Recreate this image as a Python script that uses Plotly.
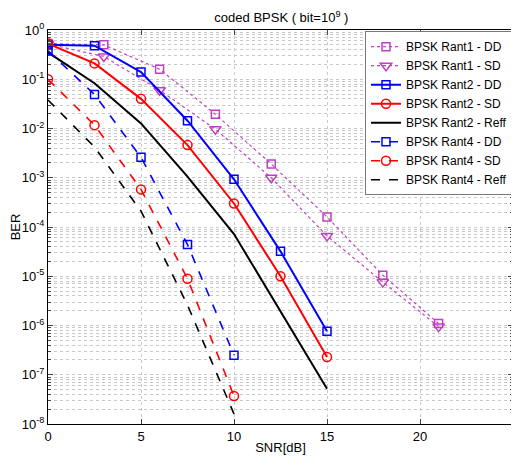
import plotly.graph_objects as go

snr_rant1 = [0, 3, 6, 9, 12, 15, 18, 21]
ber_rant1_dd = [0.53, 0.50, 0.16, 0.0195, 1.9e-3, 1.6e-4, 1.05e-5, 1.1e-6]
ber_rant1_sd = [0.52, 0.29, 0.060, 0.0097, 1.0e-3, 6.6e-5, 7.6e-6, 9.5e-7]

snr_rant2 = [0, 2.5, 5, 7.5, 10, 12.5, 15]
ber_rant2_dd = [0.50, 0.48, 0.14, 0.0144, 9.3e-4, 3.2e-5, 7.6e-7]
ber_rant2_sd = [0.53, 0.21, 0.040, 4.6e-3, 3.0e-4, 1.0e-5, 2.3e-7]
ber_rant2_reff = [0.35, 0.083, 0.0127, 1.05e-3, 7.2e-5, 2.0e-6, 5.2e-8]

snr_rant4 = [0, 2.5, 5, 7.5, 10]
ber_rant4_dd = [0.38, 0.049, 2.6e-3, 4.4e-5, 2.5e-7]
ber_rant4_sd = [0.10, 0.0117, 5.8e-4, 8.9e-6, 3.7e-8]
ber_rant4_reff = [0.038, 0.0042, 2.1e-4, 2.6e-6, 1.6e-8]

x_ticks = [0, 5, 10, 15, 20, 25]
y_exps = [0, -1, -2, -3, -4, -5, -6, -7, -8]

MAG = "rgb(191,64,191)"
BLUE = "rgb(0,0,255)"
RED = "rgb(255,0,0)"
BLACK = "rgb(0,0,0)"

fig = go.Figure()

def add(x, y, name, color, dash, width, symbol=None, size=9):
    mode = "lines+markers" if symbol else "lines"
    kw = {}
    if symbol:
        kw["marker"] = dict(symbol=symbol, size=size, color=color,
                            line=dict(color=color, width=1.5))
    fig.add_trace(go.Scatter(x=x, y=y, name=name, mode=mode,
                             line=dict(color=color, dash=dash, width=width), **kw))

add(snr_rant1, ber_rant1_dd, "BPSK Rant1 - DD", MAG, "dot", 1.2, "square-open", 8)
add(snr_rant1, ber_rant1_sd, "BPSK Rant1 - SD", MAG, "dot", 1.2, "triangle-down-open", 10)
add(snr_rant2, ber_rant2_dd, "BPSK Rant2 - DD", BLUE, "solid", 2, "square-open", 8)
add(snr_rant2, ber_rant2_sd, "BPSK Rant2 - SD", RED, "solid", 2, "circle-open", 9)
add(snr_rant2, ber_rant2_reff, "BPSK Rant2 - Reff", BLACK, "solid", 2)
add(snr_rant4, ber_rant4_dd, "BPSK Rant4 - DD", BLUE, "dash", 1.6, "square-open", 8)
add(snr_rant4, ber_rant4_sd, "BPSK Rant4 - SD", RED, "dash", 1.6, "circle-open", 9)
add(snr_rant4, ber_rant4_reff, "BPSK Rant4 - Reff", BLACK, "dash", 1.6)

grid_col = "rgb(200,200,200)"
FONT = "Liberation Sans"
# the page body has an 8px margin, so the figure is 8px smaller than the window
fig.update_layout(
    width=511, height=448,
    margin=dict(l=40, r=6, t=22, b=32),
    paper_bgcolor="white", plot_bgcolor="white",
    font=dict(family=FONT, size=13, color="black"),
    title=dict(text="coded BPSK ( bit=10<sup>9</sup> )", x=0.535, xanchor="center",
               y=0.978, yanchor="middle", font=dict(family=FONT, size=13)),
    showlegend=True,
    legend=dict(x=1.0, xanchor="right", y=0.997, yanchor="top",
                bgcolor="white", bordercolor="rgb(120,120,120)", borderwidth=1,
                font=dict(family=FONT, size=12), itemwidth=30, tracegroupgap=0),
    xaxis=dict(range=[0, 25], tickvals=x_ticks, ticks="inside", ticklen=5,
               showline=True, linecolor="black", linewidth=1, mirror="ticks",
               showgrid=True, gridcolor=grid_col, griddash="dot", gridwidth=1,
               zeroline=False, automargin=False,
               title=dict(text="SNR[dB]", standoff=0, font=dict(family=FONT, size=13))),
    yaxis=dict(type="log", range=[-8, 0],
               tickvals=[10 ** e for e in y_exps],
               ticktext=["10<sup>%d</sup>" % e for e in y_exps],
               ticks="inside", ticklen=5,
               showline=True, linecolor="black", linewidth=1, mirror="ticks",
               showgrid=True, gridcolor=grid_col, griddash="dot", gridwidth=1,
               zeroline=False, automargin=False,
               minor=dict(showgrid=True, gridcolor=grid_col, griddash="dot",
                          ticks="inside", ticklen=3, dtick="D1"),
               title=dict(text="BER", standoff=2, font=dict(family=FONT, size=13))),
)

fig.write_html("out.html")
